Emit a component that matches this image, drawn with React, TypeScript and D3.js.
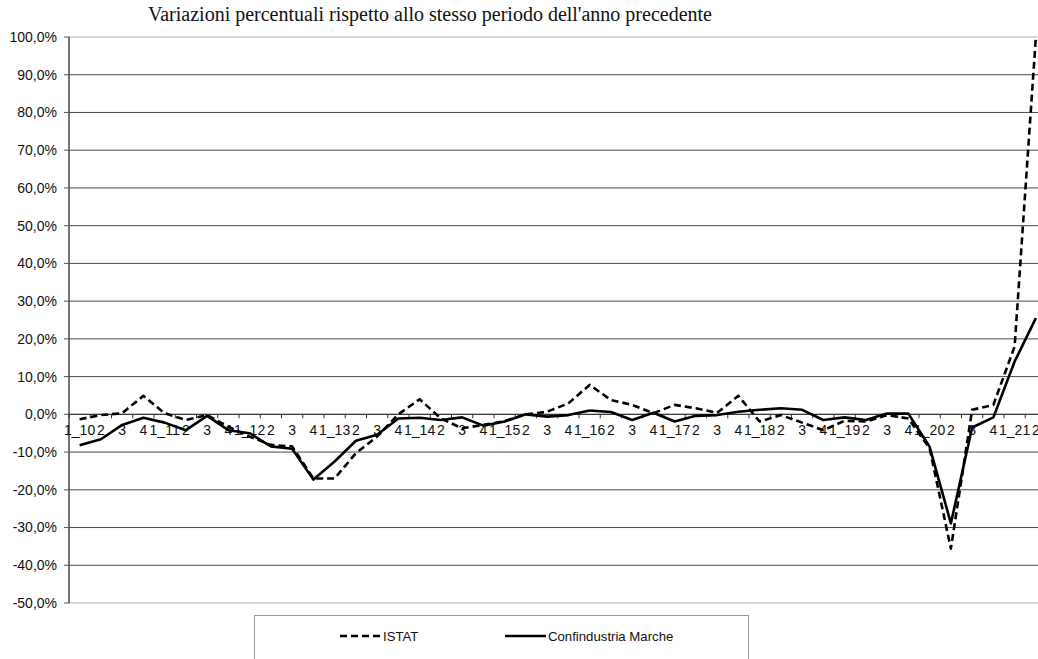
import * as d3 from 'd3'

// quarters 2010 Q1 .. 2021 Q2, labelled the way the source sheet did
const categories = [
  '1_10', '2', '3', '4',
  '1_11', '2', '3', '4',
  '1_12', '2', '3', '4',
  '1_13', '2', '3', '4',
  '1_14', '2', '3', '4',
  '1_15', '2', '3', '4',
  '1_16', '2', '3', '4',
  '1_17', '2', '3', '4',
  '1_18', '2', '3', '4',
  '1_19', '2', '3', '4',
  '1_20', '2', '3', '4',
  '1_21', '2',
]

const istat = [
  -1.3, -0.2, 0.3, 4.9,
  0.3, -1.5, -0.2, -3.3,
  -5.9, -8.1, -8.5, -17.0,
  -17.0, -10.3, -5.9, 0.0,
  4.0, -1.1, -3.7, -2.8,
  -1.8, 0.0, 0.7, 2.9,
  7.8, 3.8, 2.5, 0.3,
  2.5, 1.6, 0.4, 4.9,
  -1.9, -0.2, -2.2, -4.2,
  -1.7, -1.9, -0.2, -1.1,
  -9.0, -35.6, 1.2, 2.5,
  18.0, 100.0,
]

const confindustria = [
  -8.2, -6.6, -2.8, -0.9,
  -2.2, -4.2, -0.4, -4.2,
  -5.0, -8.5, -9.1, -17.3,
  -12.5, -7.0, -5.4, -1.1,
  -0.9, -1.5, -0.8, -3.0,
  -1.9, 0.0, -0.6, -0.2,
  1.0, 0.6, -1.5, 0.4,
  -1.9, -0.4, -0.2, 0.7,
  1.2, 1.6, 1.2, -1.5,
  -0.8, -1.5, 0.2, 0.2,
  -8.6, -28.9, -3.5, -0.8,
  14.0, 25.5,
]

const yTicks = [-50, -40, -30, -20, -10, 0, 10, 20, 30, 40, 50, 60, 70, 80, 90, 100]

const W = 1038
const H = 659
const margin = { left: 69, top: 37, right: 1046.5, bottom: 603 }

const fmt = (v: number) => `${v.toFixed(1).replace('.', ',')}%`

export default function App() {
  const x = d3
    .scaleBand<number>()
    .domain(categories.map((_, i) => i))
    .range([margin.left, margin.right])
    .paddingInner(0)
    .paddingOuter(0)
  const bw = x.bandwidth()
  const cx = (i: number) => (x(i) ?? 0) + bw / 2

  const y = d3.scaleLinear().domain([-50, 100]).range([margin.bottom, margin.top])

  const line = d3
    .line<number>()
    .x((_, i) => cx(i))
    .y(d => y(d))

  const sans = '"Liberation Sans", Arial, sans-serif'
  const y0 = y(0)

  return (
    <svg
      width={W}
      height={H}
      style={{ position: 'absolute', left: 0, top: 0, background: '#fff' }}
    >
      <defs>
        <clipPath id="plot">
          <rect x={margin.left} y={margin.top - 3} width={margin.right - margin.left} height={margin.bottom - margin.top + 6} />
        </clipPath>
      </defs>

      <text x={148} y={21} fontFamily='"Liberation Serif", "Times New Roman", serif' fontSize={20} fill="#111">
        Variazioni percentuali rispetto allo stesso periodo dell'anno precedente
      </text>

      {/* plot border + gridlines */}
      <rect
        x={margin.left}
        y={margin.top}
        width={margin.right - margin.left}
        height={margin.bottom - margin.top}
        fill="none"
        stroke="#b0b0b0"
        strokeWidth={1}
      />
      {yTicks.filter(t => t > -50 && t < 100).map(t => (
        <line
          key={t}
          x1={margin.left}
          x2={margin.right}
          y1={y(t)}
          y2={y(t)}
          stroke="#4a4a4a"
          strokeWidth={1}
        />
      ))}

      {/* y axis */}
      <line x1={margin.left} x2={margin.left} y1={margin.top} y2={margin.bottom} stroke="#555" strokeWidth={1.5} />
      {yTicks.map(t => (
        <g key={t}>
          <line x1={margin.left - 5} x2={margin.left} y1={y(t)} y2={y(t)} stroke="#555" strokeWidth={1} />
          <text
            x={57}
            y={y(t)}
            dy="0.35em"
            textAnchor="end"
            fontFamily={sans}
            fontSize={14}
            fill="#111"
          >
            {fmt(t)}
          </text>
        </g>
      ))}

      {/* category axis at zero */}
      <line x1={margin.left} x2={margin.right} y1={y0} y2={y0} stroke="#333" strokeWidth={1} />
      {categories.map((_, i) => (
        <line key={i} x1={x(i)} x2={x(i)} y1={y0} y2={y0 + 4} stroke="#333" strokeWidth={1} />
      ))}
      {categories.map((c, i) => (
        <text
          key={`l${i}`}
          x={cx(i)}
          y={y0 + 21}
          textAnchor="middle"
          fontFamily={sans}
          fontSize={14}
          fill="#111"
        >
          {c}
        </text>
      ))}

      {/* series */}
      <g clipPath="url(#plot)">
        <path
          d={line(istat) ?? ''}
          fill="none"
          stroke="#000"
          strokeWidth={2.6}
          strokeDasharray="7,4"
          strokeLinejoin="round"
        />
        <path
          d={line(confindustria) ?? ''}
          fill="none"
          stroke="#000"
          strokeWidth={2.6}
          strokeLinejoin="round"
        />
      </g>

      {/* legend */}
      <rect x={254.5} y={615.5} width={494} height={60} fill="#fff" stroke="#999" strokeWidth={1} />
      <line x1={340} x2={380} y1={636} y2={636} stroke="#000" strokeWidth={2.6} strokeDasharray="7,4" />
      <text x={383} y={636} dy="0.35em" fontFamily={sans} fontSize={13.2} fill="#111">
        ISTAT
      </text>
      <line x1={505} x2={546} y1={636} y2={636} stroke="#000" strokeWidth={2.6} />
      <text x={548} y={636} dy="0.35em" fontFamily={sans} fontSize={13.2} fill="#111">
        Confindustria Marche
      </text>
    </svg>
  )
}
